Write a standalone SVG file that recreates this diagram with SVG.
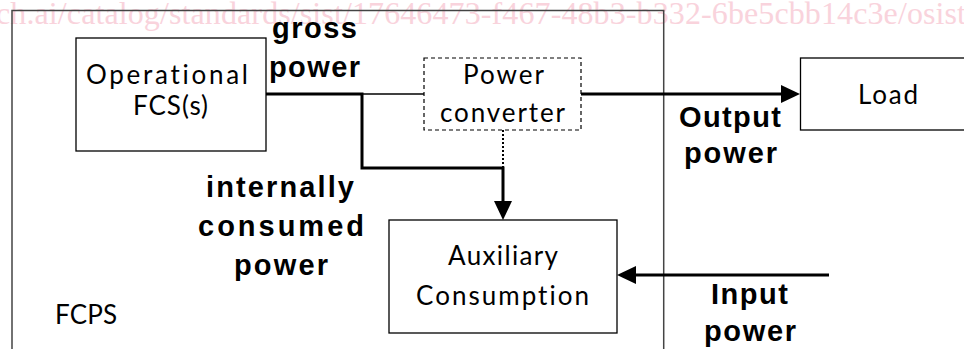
<svg xmlns="http://www.w3.org/2000/svg" width="964" height="349" viewBox="0 0 964 349">
<style>
.box{fill:#fff;stroke:#000;stroke-width:1.3}
.dash{fill:#fff;stroke:#000;stroke-width:1.2;stroke-dasharray:4 3}
.lbl{font-family:Lato,"Liberation Sans",sans-serif;font-size:26px;fill:#000;font-variant-ligatures:none}
.bold{font-family:"Liberation Sans",Arial,sans-serif;font-weight:bold;font-size:29px;fill:#000}
.thick{stroke:#000;stroke-width:3;fill:none}
.thin{stroke:#000;stroke-width:1.3;fill:none}
.dot{stroke:#000;stroke-width:2;fill:none;stroke-dasharray:2 2}
.wm{font-family:"Liberation Serif","Times New Roman",serif;font-size:32px;fill:#f9d3dc}
</style>
<defs>
<marker id="arr" markerUnits="userSpaceOnUse" markerWidth="20" markerHeight="20" refX="9" refY="9" orient="auto">
<path d="M0,0 L19,9 L0,18 z" fill="#000"/>
</marker>
</defs>
<text class="wm" x="-4" y="24" textLength="970" lengthAdjust="spacing">ch.ai/catalog/standards/sist/17646473-f467-48b3-b332-6be5cbb14c3e/osist</text>
<g id="fcps">
<rect x="12" y="10.5" width="651.7" height="400" fill="none" stroke="#444" stroke-width="1.5"/>
<text class="lbl" x="55" y="324" textLength="62" lengthAdjust="spacing">FCPS</text>
</g>
<g id="connectors">
<path class="thick" d="M266,94 H362 V168 H503 V210" marker-end="url(#arr)"/>
<path class="thin" d="M362,94 H424"/>
<path class="dot" d="M503,130 V168"/>
<path class="thick" d="M581,94 H790" marker-end="url(#arr)"/>
<path class="thick" d="M829,275 H627" marker-end="url(#arr)"/>
</g>
<g id="operational-fcs">
<rect class="box" x="76" y="38" width="190" height="113"/>
<text class="lbl" x="86" y="84" textLength="162" lengthAdjust="spacing">Operational</text>
<text class="lbl" x="133" y="115" textLength="75" lengthAdjust="spacing">FCS(s)</text>
</g>
<g id="power-converter">
<rect class="dash" x="424" y="58" width="157" height="72"/>
<text class="lbl" x="463" y="84" textLength="81" lengthAdjust="spacing">Power</text>
<text class="lbl" x="440" y="122" textLength="125" lengthAdjust="spacing">converter</text>
</g>
<g id="load">
<rect class="box" x="800.5" y="58" width="200" height="72"/>
<text class="lbl" x="858" y="104" textLength="60" lengthAdjust="spacing">Load</text>
</g>
<g id="auxiliary-consumption">
<rect class="box" x="389" y="220" width="228" height="113"/>
<text class="lbl" x="448" y="265" textLength="110" lengthAdjust="spacing">Auxiliary</text>
<text class="lbl" x="416" y="305" textLength="173" lengthAdjust="spacing">Consumption</text>
</g>
<g id="labels">
<text class="bold" x="272" y="38" textLength="85" lengthAdjust="spacing">gross</text>
<text class="bold" x="269" y="77" textLength="91" lengthAdjust="spacing">power</text>
<text class="bold" x="206" y="197" textLength="148" lengthAdjust="spacing">internally</text>
<text class="bold" x="198" y="236" textLength="166" lengthAdjust="spacing">consumed</text>
<text class="bold" x="234" y="275" textLength="94" lengthAdjust="spacing">power</text>
<text class="bold" x="679" y="127" textLength="102" lengthAdjust="spacing">Output</text>
<text class="bold" x="684" y="163" textLength="93" lengthAdjust="spacing">power</text>
<text class="bold" x="711" y="304" textLength="77" lengthAdjust="spacing">Input</text>
<text class="bold" x="704" y="341" textLength="92" lengthAdjust="spacing">power</text>
</g>
</svg>
